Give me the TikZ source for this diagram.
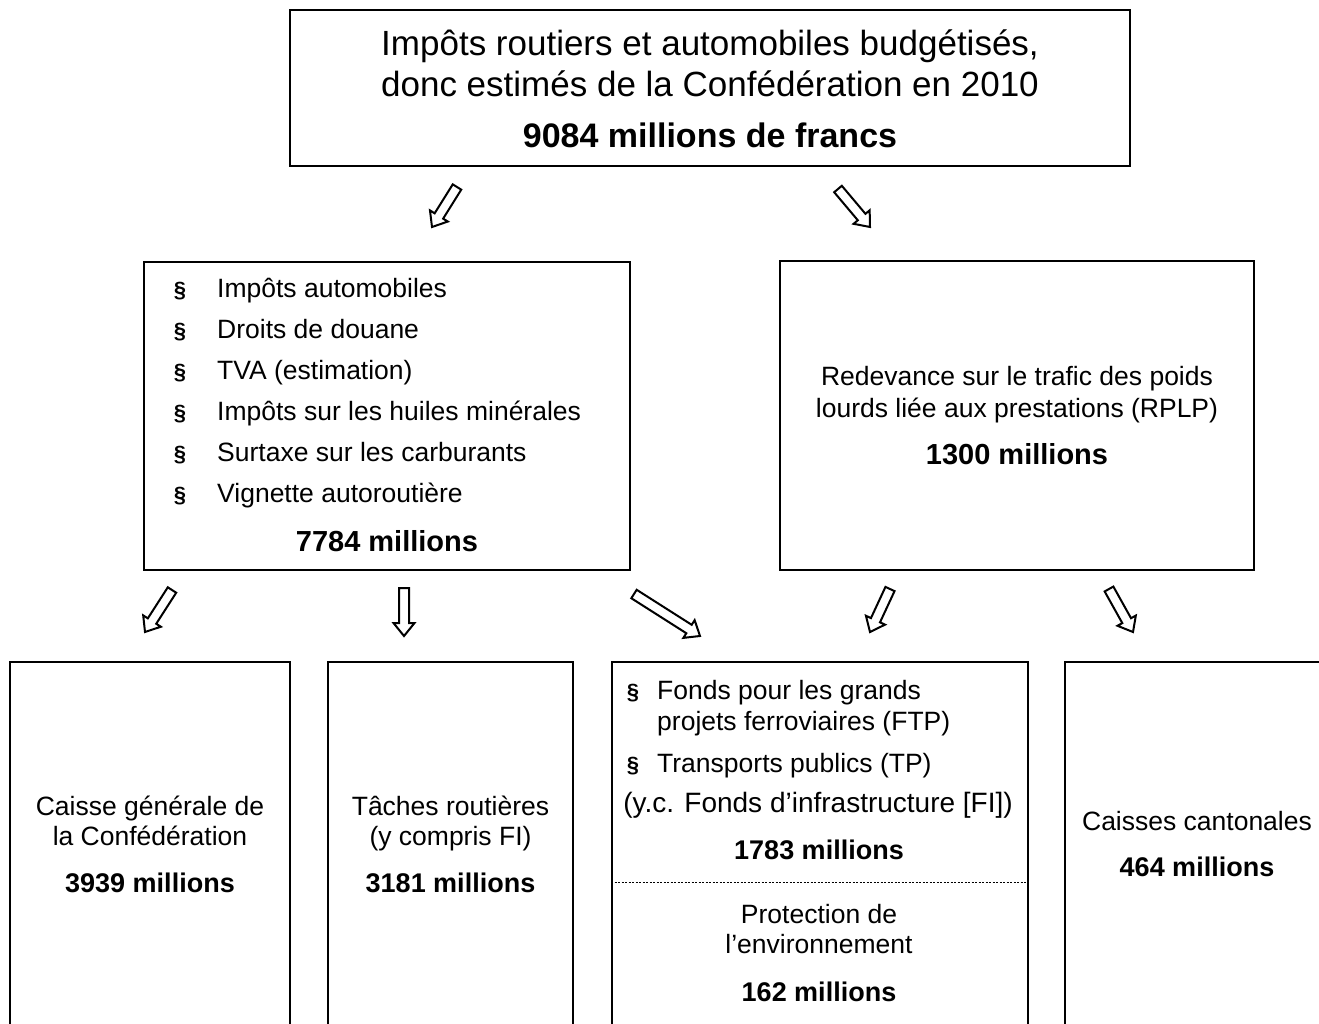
\documentclass[tikz,border=0pt]{standalone}
\usepackage{fontspec}
\setmainfont{Liberation Sans}
\usetikzlibrary{calc}
\tikzset{
  box/.style={draw, line width=2pt, inner sep=0pt},
  txt/.style={inner sep=0pt, anchor=base, font=\fontsize{26.5}{30}\selectfont},
  txtl/.style={txt, anchor=base west},
  widetxt/.style={inner sep=0pt, anchor=base, font=\fontsize{28}{32}\selectfont},
  bigbold/.style={inner sep=0pt, anchor=base, font=\fontsize{29}{33}\selectfont\bfseries},
  smbold/.style={inner sep=0pt, anchor=base, font=\fontsize{27}{31}\selectfont\bfseries},
  titletxt/.style={inner sep=0pt, anchor=base, font=\fontsize{35}{40}\selectfont},
  titlebold/.style={inner sep=0pt, anchor=base, font=\fontsize{34}{40}\selectfont\bfseries},
  para/.style={inner sep=0pt, anchor=base, font=\fontsize{22}{26}\selectfont\bfseries},
  blockarr/.style={draw, line width=2pt, fill=white, line join=miter},
  sepline/.style={line width=1pt, dash pattern=on 2pt off 1.5pt},
}
\newcommand\blockarrow[2]{%
  \path let \p1=(#1), \p2=(#2) in \pgfextra{%
    \pgfmathsetmacro\baang{atan2(\y2-\y1,\x2-\x1)}%
    \pgfmathsetmacro\balen{veclen(\x2-\x1,\y2-\y1)}%
    \global\let\baang\baang\global\let\balen\balen};
  \begin{scope}[shift={(#1)}, rotate=\baang]
    \draw[blockarr] (0pt,5pt) -- ({\balen pt-13pt},5pt) -- ({\balen pt-13pt},10.5pt)
      -- ({\balen pt},0pt) -- ({\balen pt-13pt},-10.5pt) -- ({\balen pt-13pt},-5pt)
      -- (0pt,-5pt) -- cycle;
  \end{scope}}
\begin{document}
\begin{tikzpicture}[x=1pt,y=-1pt]
\useasboundingbox[fill=white] (0,0) rectangle (1319,1023);

% ---------- boxes ----------
\node[box, minimum width=840pt, minimum height=156pt] (top) at (710,88) {};
\node[box, minimum width=486pt, minimum height=308pt] (midL) at (387,416) {};
\node[box, minimum width=474pt, minimum height=309pt] (midR) at (1017,415.5) {};
\node[box, minimum width=280pt, minimum height=380pt] (b1) at (150,852) {};
\node[box, minimum width=245pt, minimum height=380pt] (b2) at (450.5,852) {};
\node[box, minimum width=416pt, minimum height=380pt] (b3) at (820,852) {};
\node[box, minimum width=270pt, minimum height=380pt] (b4) at (1200,852) {};

% ---------- top box text ----------
\node[titletxt] (t1) at (710,55) {Impôts routiers et automobiles budgétisés,};
\node[titletxt] (t2) at (710,96) {donc estimés de la Confédération en 2010};
\node[titlebold] (t3) at (710,147) {9084 millions de francs};

% ---------- middle left ----------
\foreach \yy/\lbl [count=\i] in {297/Impôts automobiles, 338/Droits de douane, 379/TVA (estimation),
    420/Impôts sur les huiles minérales, 461/Surtaxe sur les carburants, 502/Vignette autoroutière}{
  \node[para] (pl\i) at (180,\yy) {\S};
  \node[txtl] (l\i) at (217,\yy) {\lbl};
}
\node[bigbold] (mlsum) at (387,551) {7784 millions};

% ---------- middle right ----------
\node[txt] (r1) at (1017,385) {Redevance sur le trafic des poids};
\node[txt] (r2) at (1017,417) {lourds liée aux prestations (RPLP)};
\node[bigbold] (r3) at (1017,464) {1300 millions};

% ---------- bottom 1 ----------
\node[txt] (c1) at (150,815) {Caisse générale de};
\node[txt] (c2) at (150,845) {la Confédération};
\node[smbold] (c3) at (150,892) {3939 millions};

% ---------- bottom 2 ----------
\node[txt] (d1) at (450.5,815) {Tâches routières};
\node[txt] (d2) at (450.5,845) {(y compris FI)};
\node[smbold] (d3) at (450.5,892) {3181 millions};

% ---------- bottom 3 ----------
\node[para] (fp1) at (633,699) {\S};
\node[txtl] (f1) at (657,699) {Fonds pour les grands};
\node[txtl] (f2) at (657,730) {projets ferroviaires (FTP)};
\node[para] (fp2) at (633,772) {\S};
\node[txtl] (f3) at (657,772) {Transports publics (TP)};
\node[widetxt] (f4) at (818,812) {(y.c. Fonds d’infrastructure [FI])};
\node[smbold] (f5) at (819,859) {1783 millions};
\coordinate (dl) at (0,882);
\draw[sepline] (b3.west |- dl) -- (b3.east |- dl);
\node[txt] (e1) at (819,923) {Protection de};
\node[txt] (e2) at (819,953) {l’environnement};
\node[smbold] (e3) at (819,1001) {162 millions};

% ---------- bottom 4 ----------
\node[txt] (k1) at (1197,830) {Caisses cantonales};
\node[smbold] (k2) at (1197,876) {464 millions};

% ---------- block arrows ----------
\coordinate (a1s) at (457,187); \coordinate (a1e) at (432,227);
\coordinate (a2s) at (838,189); \coordinate (a2e) at (870,227);
\coordinate (a3s) at (172,590); \coordinate (a3e) at (145,632);
\coordinate (a4s) at (404,588); \coordinate (a4e) at (404,636);
\coordinate (a5s) at (634,594); \coordinate (a5e) at (700,636);
\coordinate (a6s) at (890,589); \coordinate (a6e) at (870,632);
\coordinate (a7s) at (1109,589); \coordinate (a7e) at (1133,632);
\blockarrow{a1s}{a1e}
\blockarrow{a2s}{a2e}
\blockarrow{a3s}{a3e}
\blockarrow{a4s}{a4e}
\blockarrow{a5s}{a5e}
\blockarrow{a6s}{a6e}
\blockarrow{a7s}{a7e}
\end{tikzpicture}
\end{document}
